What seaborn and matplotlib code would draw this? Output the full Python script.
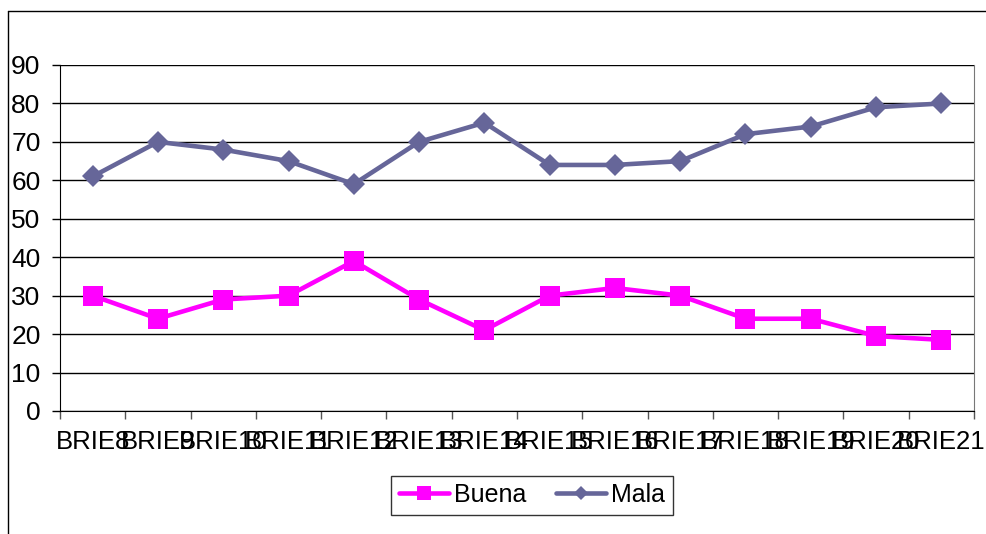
import pandas as pd
import seaborn as sns
from matplotlib import pyplot as plt
from matplotlib.lines import Line2D

# Values
categories = ['BRIE8', 'BRIE9', 'BRIE10', 'BRIE11', 'BRIE12', 'BRIE13', 'BRIE14',
              'BRIE15', 'BRIE16', 'BRIE17', 'BRIE18', 'BRIE19', 'BRIE20', 'BRIE21']
buena = [30, 24, 29, 30, 39, 29, 21, 30, 32, 30, 24, 24, 19.5, 18.5]
mala = [61, 70, 68, 65, 59, 70, 75, 64, 64, 65, 72, 74, 79, 80]
y_ticks = [0, 10, 20, 30, 40, 50, 60, 70, 80, 90]

# long-form table for seaborn
pos = list(range(len(categories)))
df = pd.DataFrame({
    'pos': pos * 2,
    'valor': buena + mala,
    'serie': ['Buena'] * len(pos) + ['Mala'] * len(pos),
})

sns.set_style('white')
plt.rcParams['font.family'] = ['Liberation Sans', 'DejaVu Sans']
plt.rcParams['text.color'] = 'black'
plt.rcParams['xtick.labelcolor'] = 'black'
plt.rcParams['ytick.labelcolor'] = 'black'

fig = plt.figure(figsize=(9.86, 5.34), dpi=100)
ax = fig.add_axes([60 / 986, 1 - 411 / 534, 914 / 986, 346 / 534])

colors = {'Buena': '#FF00FF', 'Mala': '#666699'}
sns.lineplot(data=df, x='pos', y='valor', hue='serie', style='serie',
             palette=colors, markers={'Buena': 's', 'Mala': 'D'}, dashes=False,
             linewidth=3.3, markersize=14.5, markeredgewidth=0, legend=False, ax=ax)
# diamonds a bit smaller than squares
ax.lines[1].set_markersize(11)

ax.set_xlim(-0.5, len(categories) - 0.5)
ax.set_ylim(0, 90)
ax.set_yticks(y_ticks)
ax.set_yticklabels([str(v) for v in y_ticks])
ax.yaxis.grid(True, color='black', linewidth=1)
ax.set_axisbelow(True)
ax.set_xlabel('')
ax.set_ylabel('')

# category labels centred, tick marks between categories
ax.set_xticks(pos)
ax.set_xticklabels(categories)
ax.set_xticks([p - 0.5 for p in pos] + [len(pos) - 0.5], minor=True)
ax.tick_params(axis='x', which='major', length=0, pad=14, labelsize=18.5, labelcolor='black')
ax.tick_params(axis='x', which='minor', length=6, width=1, color='#555555', bottom=True)
ax.tick_params(axis='y', length=6, width=1, color='black', left=True, pad=8, labelsize=19,
               labelcolor='black')

ax.spines['top'].set_visible(False)
ax.spines['left'].set_color('black')
ax.spines['bottom'].set_color('black')
ax.spines['right'].set_color('#777777')

handles = [Line2D([], [], color=colors['Buena'], marker='s', linewidth=3.3, markersize=10, markeredgewidth=0),
           Line2D([], [], color=colors['Mala'], marker='D', linewidth=3.3, markersize=7, markeredgewidth=0)]
leg = fig.legend(handles, ['Buena', 'Mala'], loc='center', bbox_to_anchor=(532 / 986, 1 - 495 / 534),
                 ncol=2, frameon=True, fancybox=False, fontsize=18, handlelength=2.0,
                 handletextpad=0.2, columnspacing=1.2, borderpad=0.3, labelcolor='black')
leg.get_frame().set_edgecolor('black')
leg.get_frame().set_linewidth(1)

# outer chart-area border, cropped at the right and bottom
fig.add_artist(Line2D([8 / 986, 8 / 986], [0, 1 - 11 / 534], color='black', linewidth=1))
fig.add_artist(Line2D([8 / 986, 1], [1 - 11 / 534, 1 - 11 / 534], color='black', linewidth=1))

fig.savefig('out.png', dpi=100)
